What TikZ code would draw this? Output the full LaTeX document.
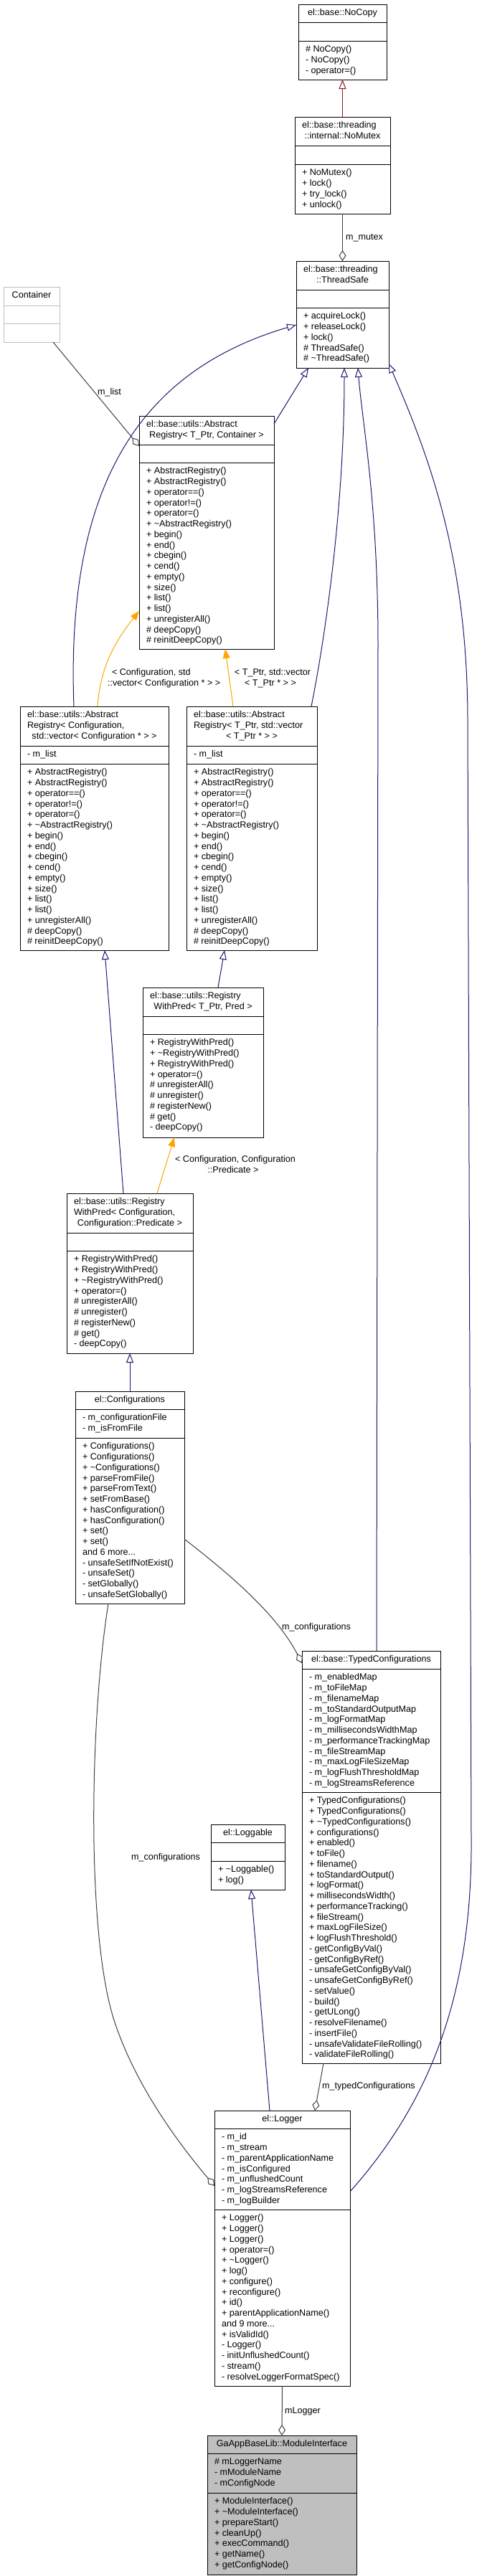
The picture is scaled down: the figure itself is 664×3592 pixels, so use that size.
\documentclass[tikz,border=0pt]{standalone}
\usepackage{fontspec}
\setmainfont{Liberation Sans}
\usetikzlibrary{arrows.meta}
\definecolor{navy}{HTML}{191970}
\definecolor{edgegray}{HTML}{404040}
\definecolor{tmplorange}{HTML}{FFA500}
\definecolor{privred}{HTML}{8B1A1A}
\definecolor{undocgray}{HTML}{BFBFBF}
\definecolor{mainfill}{HTML}{BFBFBF}
\newcommand\myfont{\fontsize{12.6}{14.75}\selectfont}
\tikzset{
  cls/.style={draw=black, line width=1pt, fill=white, inner sep=0pt, outer sep=0pt, anchor=north west},
  sep/.style={draw=black, line width=1pt},
  txt/.style={anchor=north west, inner sep=0pt, outer sep=0pt, align=left, font=\myfont},
  ttl/.style={anchor=base, inner sep=0pt, outer sep=0pt, font=\myfont},
  lbl/.style={anchor=base west, inner sep=0pt, outer sep=0pt, font=\myfont},
  clbl/.style={anchor=base, inner sep=0pt, outer sep=0pt, font=\myfont},
  inh/.style={draw=navy, line width=1pt, -{Triangle[open, length=13pt, width=10pt]}},
  privinh/.style={draw=privred, line width=1pt, -{Triangle[open, length=13pt, width=10pt]}},
  tmpl/.style={draw=tmplorange, line width=1pt, -{Triangle[length=13pt, width=10pt]}},
  aggr/.style={draw=edgegray, line width=1pt, -{Diamond[open, length=15pt, width=10pt]}},
}
% name, x1, x2, y1, ytitle, yattr, y2, style
\newcommand\umlbox[8]{%
  \node[cls,#8,minimum width={(#3-#2)*1pt},minimum height={(#7-#4)*1pt}] (#1) at (#2,#4) {};
  \draw[sep,#8] (#2,#5) -- (#3,#5) (#2,#6) -- (#3,#6);}
% name, x1, ytop, text
\newcommand\ltext[4]{\node[txt] (#1) at ({#2+10},{#3+5.5}) {\strut #4};}
% name, x1, x2, ybase, text
\newcommand\ctext[5]{\node[ttl] (#1) at ({(#2+#3)/2},{#4}) {#5};}
\begin{document}
\begin{tikzpicture}[x=1pt,y=-1pt]
\fill[white] (0,0) rectangle (664,3592);
\useasboundingbox (0,0) rectangle (664,3592);

% ---------------- classes ----------------
\umlbox{nocopy}{416}{539}{6}{31}{57}{111}{}
\ctext{nocopyT}{416}{539}{21.5}{el::base::NoCopy}
\ltext{nocopyM}{416}{57}{\# NoCopy()\\- NoCopy()\\- operator=()}

\umlbox{nomutex}{411}{544}{163}{203}{229}{298}{}
\ltext{nomutexT}{411}{163}{el::base::threading}
\ctext{nomutexT2}{411}{544}{193.5}{::internal::NoMutex}
\ltext{nomutexM}{411}{229}{+ NoMutex()\\+ lock()\\+ try\_lock()\\+ unlock()}

\umlbox{tsafe}{413}{542}{364}{404}{429}{513}{}
\ltext{tsafeT}{413}{364}{el::base::threading}
\ctext{tsafeT2}{413}{542}{394.5}{::ThreadSafe}
\ltext{tsafeM}{413}{429}{+ acquireLock()\\+ releaseLock()\\+ lock()\\\# ThreadSafe()\\\# \textasciitilde ThreadSafe()}

\umlbox{container}{5}{83}{400}{426}{451}{477}{draw=undocgray}
\ctext{containerT}{5}{83}{415.5}{Container}

\umlbox{ar}{194}{382}{580}{620}{645}{905}{}
\ltext{arT}{194}{580}{el::base::utils::Abstract}
\ctext{arT2}{194}{382}{610.5}{Registry< T\_Ptr, Container >}
\ltext{arM}{194}{645}{+ AbstractRegistry()\\+ AbstractRegistry()\\+ operator==()\\+ operator!=()\\+ operator=()\\+ \textasciitilde AbstractRegistry()\\+ begin()\\+ end()\\+ cbegin()\\+ cend()\\+ empty()\\+ size()\\+ list()\\+ list()\\+ unregisterAll()\\\# deepCopy()\\\# reinitDeepCopy()}

\umlbox{arc}{28}{235}{985}{1040}{1065}{1325}{}
\ltext{arcT}{28}{985}{el::base::utils::Abstract\\Registry< Configuration,}
\ctext{arcT2}{28}{235}{1030.5}{std::vector< Configuration * > >}
\ltext{arcA}{28}{1040}{- m\_list}
\ltext{arcM}{28}{1065}{+ AbstractRegistry()\\+ AbstractRegistry()\\+ operator==()\\+ operator!=()\\+ operator=()\\+ \textasciitilde AbstractRegistry()\\+ begin()\\+ end()\\+ cbegin()\\+ cend()\\+ empty()\\+ size()\\+ list()\\+ list()\\+ unregisterAll()\\\# deepCopy()\\\# reinitDeepCopy()}

\umlbox{arv}{260}{442}{985}{1040}{1065}{1325}{}
\ltext{arvT}{260}{985}{el::base::utils::Abstract\\Registry< T\_Ptr, std::vector}
\ctext{arvT2}{260}{442}{1030.5}{< T\_Ptr * > >}
\ltext{arvA}{260}{1040}{- m\_list}
\ltext{arvM}{260}{1065}{+ AbstractRegistry()\\+ AbstractRegistry()\\+ operator==()\\+ operator!=()\\+ operator=()\\+ \textasciitilde AbstractRegistry()\\+ begin()\\+ end()\\+ cbegin()\\+ cend()\\+ empty()\\+ size()\\+ list()\\+ list()\\+ unregisterAll()\\\# deepCopy()\\\# reinitDeepCopy()}

\umlbox{rwpt}{199}{367}{1377}{1417}{1442}{1586}{}
\ltext{rwptT}{199}{1377}{el::base::utils::Registry}
\ctext{rwptT2}{199}{367}{1407.5}{WithPred< T\_Ptr, Pred >}
\ltext{rwptM}{199}{1442}{+ RegistryWithPred()\\+ \textasciitilde RegistryWithPred()\\+ RegistryWithPred()\\+ operator=()\\\# unregisterAll()\\\# unregister()\\\# registerNew()\\\# get()\\- deepCopy()}

\umlbox{rwpc}{93}{269}{1664}{1719}{1744}{1887}{}
\ltext{rwpcT}{93}{1664}{el::base::utils::Registry\\WithPred< Configuration,}
\ctext{rwpcT2}{93}{269}{1709.5}{Configuration::Predicate >}
\ltext{rwpcM}{93}{1744}{+ RegistryWithPred()\\+ RegistryWithPred()\\+ \textasciitilde RegistryWithPred()\\+ operator=()\\\# unregisterAll()\\\# unregister()\\\# registerNew()\\\# get()\\- deepCopy()}

\umlbox{confs}{105}{257}{1940}{1965}{2005}{2236}{}
\ctext{confsT}{105}{257}{1955.5}{el::Configurations}
\ltext{confsA}{105}{1965}{- m\_configurationFile\\- m\_isFromFile}
\ltext{confsM}{105}{2005}{+ Configurations()\\+ Configurations()\\+ \textasciitilde Configurations()\\+ parseFromFile()\\+ parseFromText()\\+ setFromBase()\\+ hasConfiguration()\\+ hasConfiguration()\\+ set()\\+ set()\\and 6 more...\\- unsafeSetIfNotExist()\\- unsafeSet()\\- setGlobally()\\- unsafeSetGlobally()}

\umlbox{typed}{421}{614}{2302}{2327}{2499}{2877}{}
\ctext{typedT}{421}{614}{2317.5}{el::base::TypedConfigurations}
\ltext{typedA}{421}{2327}{- m\_enabledMap\\- m\_toFileMap\\- m\_filenameMap\\- m\_toStandardOutputMap\\- m\_logFormatMap\\- m\_millisecondsWidthMap\\- m\_performanceTrackingMap\\- m\_fileStreamMap\\- m\_maxLogFileSizeMap\\- m\_logFlushThresholdMap\\- m\_logStreamsReference}
\ltext{typedM}{421}{2499}{+ TypedConfigurations()\\+ TypedConfigurations()\\+ \textasciitilde TypedConfigurations()\\+ configurations()\\+ enabled()\\+ toFile()\\+ filename()\\+ toStandardOutput()\\+ logFormat()\\+ millisecondsWidth()\\+ performanceTracking()\\+ fileStream()\\+ maxLogFileSize()\\+ logFlushThreshold()\\- getConfigByVal()\\- getConfigByRef()\\- unsafeGetConfigByVal()\\- unsafeGetConfigByRef()\\- setValue()\\- build()\\- getULong()\\- resolveFilename()\\- insertFile()\\- unsafeValidateFileRolling()\\- validateFileRolling()}

\umlbox{loggable}{294}{397}{2544}{2569}{2595}{2635}{}
\ctext{loggableT}{294}{397}{2559.5}{el::Loggable}
\ltext{loggableM}{294}{2595}{+ \textasciitilde Loggable()\\+ log()}

\umlbox{logger}{299}{488}{2943}{2968}{3081}{3327}{}
\ctext{loggerT}{299}{488}{2958.5}{el::Logger}
\ltext{loggerA}{299}{2968}{- m\_id\\- m\_stream\\- m\_parentApplicationName\\- m\_isConfigured\\- m\_unflushedCount\\- m\_logStreamsReference\\- m\_logBuilder}
\ltext{loggerM}{299}{3081}{+ Logger()\\+ Logger()\\+ Logger()\\+ operator=()\\+ \textasciitilde Logger()\\+ log()\\+ configure()\\+ reconfigure()\\+ id()\\+ parentApplicationName()\\and 9 more...\\+ isValidId()\\- Logger()\\- initUnflushedCount()\\- stream()\\- resolveLoggerFormatSpec()}

\umlbox{modif}{289}{497}{3396}{3421}{3476}{3590}{fill=mainfill}
\ctext{modifT}{289}{497}{3411.5}{GaAppBaseLib::ModuleInterface}
\ltext{modifA}{289}{3421}{\# mLoggerName\\- mModuleName\\- mConfigNode}
\ltext{modifM}{289}{3476}{+ ModuleInterface()\\+ \textasciitilde ModuleInterface()\\+ prepareStart()\\+ cleanUp()\\+ execCommand()\\+ getName()\\+ getConfigNode()}

% ---------------- connectors ----------------
\draw[privinh] (nomutex.north) -- (nocopy.south);
\draw[aggr] (nomutex.south) -- (tsafe.north);
\node[lbl] (lmutex) at (482,334.5) {m\_mutex};

\draw[aggr] (container.south -| 74,0) -- (ar.west |- 0,622);
\node[lbl] (lmlist) at (136,550.5) {m\_list};

\draw[inh] (ar.east |- 0,591) -- (tsafe.south -| 430,0);
\draw[inh] (arc.north -| 103,0) .. controls (92,690) and (185,520) .. (tsafe.west |- 0,453);
\draw[inh] (arv.north -| 434,0) .. controls (455,880) and (480,700) .. (tsafe.south -| 480,0);
\draw[inh] (typed.north -| 525,0) -- (527,900) .. controls (527,700) and (505,590) .. (tsafe.south -| 499,0);
\draw[inh] (logger.east |- 0,3056) .. controls (600,2930) and (659,2780) .. (657,2560) -- (652,1000) .. controls (651,780) and (600,640) .. (tsafe.east |- 0,507);

\draw[tmpl] (arc.north -| 136,0) .. controls (140,930) and (160,895) .. (ar.west |- 0,852);
\node[lbl] (ltc1) at (156,941.5) {< Configuration, std};
\node[lbl] (ltc2) at (150,956.5) {::vector< Configuration * > >};
\draw[tmpl] (arv.north -| 325,0) -- (ar.south -| 314,0);
\node[clbl] (ltv1) at (380,941.5) {< T\_Ptr, std::vector};
\node[clbl] (ltv2) at (377,956.5) {< T\_Ptr * > >};

\draw[inh] (rwpc.north -| 172,0) -- (arc.south -| 146,0);
\draw[inh] (rwpt.north -| 304,0) -- (arv.south -| 313,0);
\draw[tmpl] (rwpc.north -| 219,0) -- (rwpt.south -| 243,0);
\node[clbl] (ltp1) at (328,1620.5) {< Configuration, Configuration};
\node[clbl] (ltp2) at (325,1635.5) {::Predicate >};

\draw[inh] (confs.north -| 181,0) -- (rwpc.south -| 181,0);
\draw[aggr] (confs.east |- 0,2146) .. controls (320,2195) and (385,2250) .. (typed.west |- 0,2319);
\node[lbl] (lconf1) at (393,2272.5) {m\_configurations};
\draw[aggr] (confs.south -| 151,0) .. controls (125,2400) and (120,2700) .. (160,2820) .. controls (190,2910) and (250,2990) .. (logger.west |- 0,3048);
\node[lbl] (lconf2) at (183,2593.5) {m\_configurations};

\draw[inh] (logger.north -| 376,0) -- (loggable.south -| 350,0);
\draw[aggr] (typed.south -| 451,0) -- (logger.north -| 439,0);
\node[lbl] (ltyped) at (449,2912.5) {m\_typedConfigurations};
\draw[aggr] (logger.south) -- (modif.north);
\node[lbl] (llogger) at (397,3365.5) {mLogger};
\end{tikzpicture}
\end{document}
